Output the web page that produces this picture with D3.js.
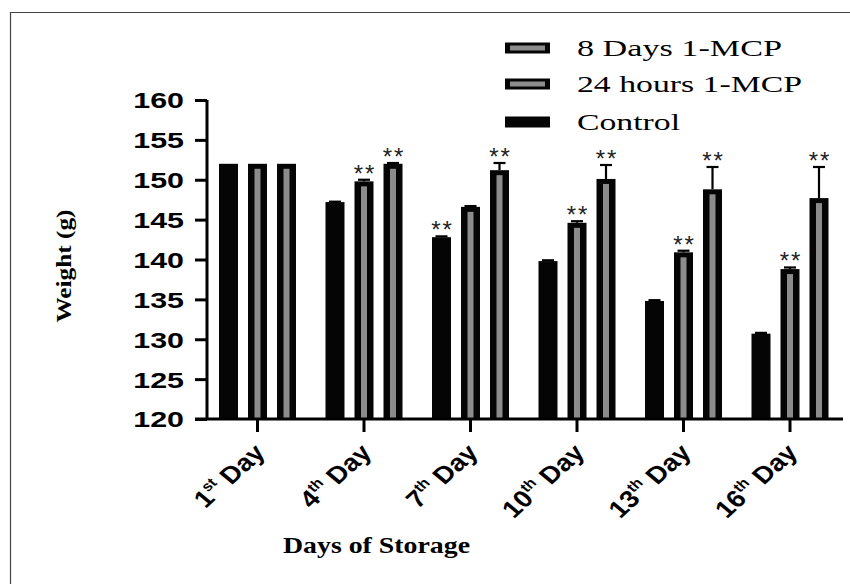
<!DOCTYPE html>
<html>
<head>
<meta charset="utf-8">
<script src="https://cdn.jsdelivr.net/npm/d3@7"></script>
<style>
  html, body { margin: 0; padding: 0; background: #fff; }
  svg { display: block; }
</style>
</head>
<body>
<svg id="chart" width="850" height="584"></svg>
<script>
"use strict";

/* ── Data ─────────────────────────────────────────────── */
const DAYS      = ["1", "4", "7", "10", "13", "16"];
const DAY_SUP   = ["st", "th", "th", "th", "th", "th"];
const SERIES    = ["Control", "24 hours 1-MCP", "8 Days 1-MCP"];
const CONTROL   = [152.0, 147.2, 142.8, 139.8, 134.8, 130.7];
const HOURS_24  = [152.0, 149.8, 146.6, 144.6, 140.9, 138.8];
const DAYS_8    = [152.0, 152.0, 151.2, 150.1, 148.8, 147.7];
const ERR_CTRL  = [0, 0.05, 0.1, 0.1, 0.1, 0.1];
const ERR_24H   = [0, 0.2, 0.1, 0.2, 0.2, 0.2];
const ERR_8D    = [0, 0.1, 0.9, 1.75, 2.8, 3.9];
const STARS_CTRL = [false, false, true, false, false, false];
const STARS_24H  = [false, true, false, true, true, true];
const STARS_8D   = [false, true, true, true, true, true];
const Y_TICKS   = [120, 125, 130, 135, 140, 145, 150, 155, 160];
const LEGEND    = ["8 Days 1-MCP", "24 hours 1-MCP", "Control"];

const rows = [];
DAYS.forEach((d, i) => {
  rows.push({ day: d, s: SERIES[0], v: CONTROL[i],  e: ERR_CTRL[i], star: STARS_CTRL[i] });
  rows.push({ day: d, s: SERIES[1], v: HOURS_24[i], e: ERR_24H[i],  star: STARS_24H[i] });
  rows.push({ day: d, s: SERIES[2], v: DAYS_8[i],   e: ERR_8D[i],   star: STARS_8D[i] });
});

/* ── Layout ───────────────────────────────────────────── */
const AX_X = 207, AX_Y = 419, TOP = 100, X_END = 843;
const svg = d3.select("#chart");

// frame (left + top only)
svg.append("path")
  .attr("d", "M10.5,584 L10.5,12.5 L850,12.5")
  .attr("fill", "none").attr("stroke", "#444").attr("stroke-width", 1.2);

const y = d3.scaleLinear().domain([120, 160]).range([AX_Y, TOP]);
const x0 = d3.scaleBand().domain(DAYS).range([204.25, 843.25]).padding(0);
const x1 = d3.scaleBand().domain(SERIES).range([-38.5, 38.5])
  .paddingInner(0.345).paddingOuter(0);
const cx = (d) => x0(d) + x0.bandwidth() / 2;

/* ── Bars ─────────────────────────────────────────────── */
const bars = svg.append("g");
const stars = svg.append("g");
rows.forEach((r) => {
  const bx = cx(r.day) + x1(r.s);
  const bw = x1.bandwidth();
  const top = y(r.v);
  const et = y(r.v + r.e);
  // error bar (upward)
  if (r.e > 0) {
    bars.append("line")
      .attr("x1", bx + bw / 2).attr("x2", bx + bw / 2)
      .attr("y1", top).attr("y2", et)
      .attr("stroke", "#000").attr("stroke-width", 2.2);
    bars.append("line")
      .attr("x1", bx + bw / 2 - 6).attr("x2", bx + bw / 2 + 6)
      .attr("y1", et).attr("y2", et)
      .attr("stroke", "#000").attr("stroke-width", 2.2);
  }
  bars.append("rect")
    .attr("x", bx).attr("y", top)
    .attr("width", bw).attr("height", AX_Y - top)
    .attr("fill", "#050505");
  if (r.s !== "Control") {
    bars.append("rect")
      .attr("x", bx + 6.5).attr("y", top + 5)
      .attr("width", bw - 13).attr("height", AX_Y - top - 5)
      .attr("fill", "#8c8c8c");
  }
  if (r.star) {
    stars.append("text")
      .attr("x", bx + bw / 2 + 1).attr("y", et + 2)
      .attr("text-anchor", "middle")
      .attr("font-family", "Liberation Sans, Arial, sans-serif")
      .attr("font-size", 24).attr("letter-spacing", 2)
      .attr("fill", "#222")
      .text("**");
  }
});
stars.raise();

/* ── Axes ─────────────────────────────────────────────── */
svg.append("g")
  .attr("transform", `translate(${AX_X},0)`)
  .call(d3.axisLeft(y).tickValues(Y_TICKS).tickSize(12).tickPadding(0))
  .call((a) => {
    a.select(".domain").attr("stroke-width", 3).attr("d", `M0,${TOP}V${AX_Y}`);
    a.selectAll(".tick line").attr("stroke-width", 3);
    a.selectAll(".tick text")
      .attr("x", -23 / 1.38).attr("dy", "0.36em")
      .attr("transform", "scale(1.38,1)")
      .attr("font-family", "Liberation Sans, Arial, sans-serif")
      .attr("font-weight", "bold").attr("font-size", 22)
      .attr("fill", "#000");
  });

svg.append("line")
  .attr("x1", AX_X - 12).attr("x2", X_END)
  .attr("y1", AX_Y).attr("y2", AX_Y)
  .attr("stroke", "#000").attr("stroke-width", 3);

const xAxis = svg.append("g");
DAYS.forEach((d, i) => {
  const tx = cx(d);
  xAxis.append("line")
    .attr("x1", tx).attr("x2", tx)
    .attr("y1", AX_Y).attr("y2", AX_Y + 13)
    .attr("stroke", "#000").attr("stroke-width", 3);
  const t = xAxis.append("g")
    .attr("transform", `translate(${tx + 9},${AX_Y + 35}) scale(1.15,1) rotate(-46)`)
    .append("text")
    .attr("text-anchor", "end")
    .attr("font-family", "Liberation Sans, Arial, sans-serif")
    .attr("font-weight", "bold").attr("font-size", 24)
    .attr("fill", "#000");
  t.append("tspan").text(d);
  t.append("tspan").attr("font-size", 14).attr("dy", -10).text(DAY_SUP[i]);
  t.append("tspan").attr("dy", 10).text("\u00a0Day");
});

/* ── Titles ───────────────────────────────────────────── */
svg.append("text")
  .attr("x", 283).attr("y", 553)
  .attr("font-family", "Liberation Serif, Times New Roman, serif")
  .attr("font-weight", "bold").attr("font-size", 23)
  .attr("textLength", 187).attr("lengthAdjust", "spacingAndGlyphs")
  .text("Days of Storage");

svg.append("text")
  .attr("transform", "translate(71,266) rotate(-90)")
  .attr("text-anchor", "middle")
  .attr("font-family", "Liberation Serif, Times New Roman, serif")
  .attr("font-weight", "bold").attr("font-size", 22)
  .attr("textLength", 113).attr("lengthAdjust", "spacingAndGlyphs")
  .text("Weight (g)");

/* ── Legend ───────────────────────────────────────────── */
const LEG_Y = [48, 84, 122];
const LEG_W = [205, 225, 103];
const leg = svg.append("g");
LEGEND.forEach((name, i) => {
  const cy = LEG_Y[i];
  leg.append("rect")
    .attr("x", 505).attr("y", cy - 5.5).attr("width", 45).attr("height", 11)
    .attr("fill", "#050505");
  if (name !== "Control") {
    leg.append("rect")
      .attr("x", 510).attr("y", cy - 2.5).attr("width", 35).attr("height", 5)
      .attr("fill", "#8c8c8c");
  }
  leg.append("text")
    .attr("x", 577).attr("y", cy + 8)
    .attr("font-family", "Liberation Serif, Times New Roman, serif")
    .attr("font-size", 23)
    .attr("textLength", LEG_W[i]).attr("lengthAdjust", "spacingAndGlyphs")
    .attr("fill", "#000")
    .text(name);
});
</script>
</body>
</html>
